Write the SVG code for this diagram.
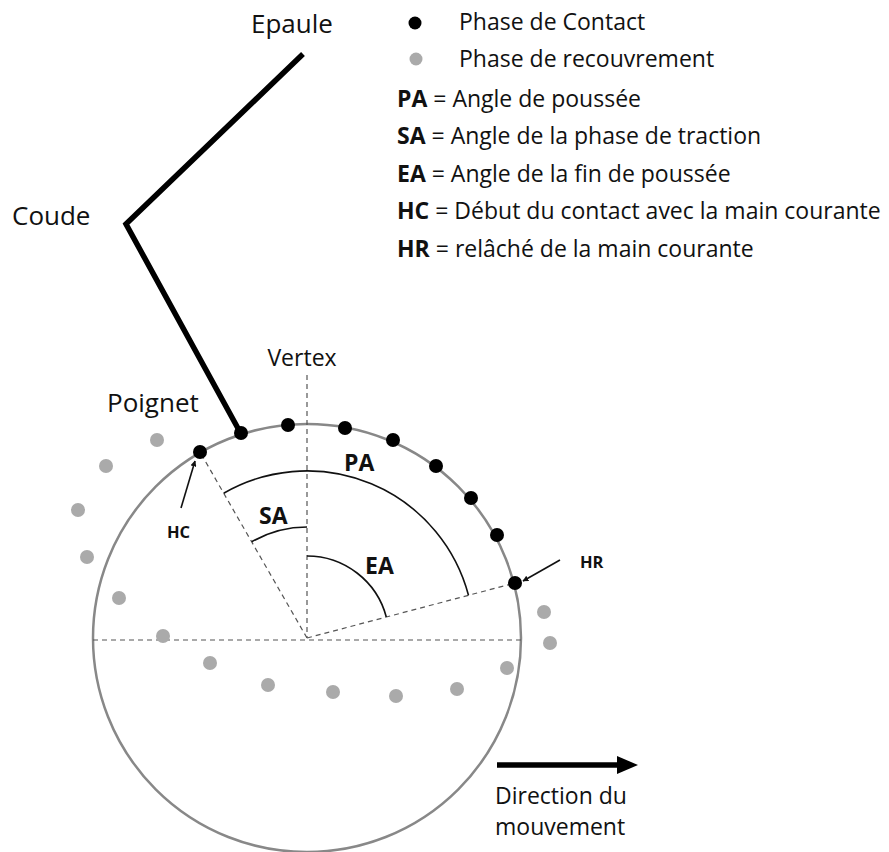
<svg xmlns="http://www.w3.org/2000/svg" width="889" height="852" viewBox="0 0 889 852">
<defs>
<style>
.t{font-family:"Open Sans","Liberation Sans",sans-serif;fill:#111;}
.lg{font-size:23px;}
.big{font-size:26px;}
.b{font-weight:bold;}
.dash{stroke:#555;stroke-width:1.2;stroke-dasharray:5 4;fill:none;}
.arc{stroke:#111;stroke-width:1.6;fill:none;}
.cd{fill:#000;}
.rd{fill:#aaa;}
.thin{stroke:#111;stroke-width:1.6;fill:none;}
</style>
<marker id="ah" viewBox="0 0 10 10" refX="9" refY="5" markerWidth="6" markerHeight="6" markerUnits="userSpaceOnUse" orient="auto">
<path d="M0,0 L10,5 L0,10 z" fill="#111"/>
</marker>
</defs>
<rect width="889" height="852" fill="#fff"/>

<g id="legend">
<circle class="cd" cx="415" cy="23" r="6.5"/>
<text class="t lg" x="459" y="30">Phase de Contact</text>
<circle class="rd" cx="416" cy="59" r="6.5"/>
<text class="t lg" x="459" y="67">Phase de recouvrement</text>
<text class="t lg" x="397" y="107"><tspan class="b">PA</tspan> = Angle de poussée</text>
<text class="t lg" x="397" y="144"><tspan class="b">SA</tspan> = Angle de la phase de traction</text>
<text class="t lg" x="397" y="181.5"><tspan class="b">EA</tspan> = Angle de la fin de poussée</text>
<text class="t lg" x="397" y="219"><tspan class="b">HC</tspan> = Début du contact avec la main courante</text>
<text class="t lg" x="397" y="256.5"><tspan class="b">HR</tspan> = relâché de la main courante</text>
</g>

<g id="arm">
<polyline points="303,54 126,224 240,432" fill="none" stroke="#000" stroke-width="5.5" stroke-linejoin="miter"/>
<text class="t big" x="251" y="33">Epaule</text>
<text class="t big" x="12" y="225">Coude</text>
<text class="t big" x="107" y="412">Poignet</text>
</g>

<g id="wheel">
<circle cx="307" cy="638" r="214" fill="none" stroke="#888" stroke-width="2.5"/>
</g>

<g id="connectors">
<line class="dash" x1="307" y1="375" x2="307" y2="638"/>
<line class="dash" x1="93" y1="640" x2="521" y2="640"/>
<line class="dash" x1="307" y1="638" x2="200" y2="452"/>
<line class="dash" x1="307" y1="638" x2="515" y2="583"/>
<line class="thin" x1="181" y1="508" x2="195" y2="461" marker-end="url(#ah)"/>
<line class="thin" x1="560" y1="560" x2="523" y2="581" marker-end="url(#ah)"/>
<line x1="497" y1="765" x2="620" y2="765" stroke="#000" stroke-width="5.5"/>
<path d="M617,756 L638,765 L617,774 z" fill="#000"/>
</g>

<g id="angles">
<path class="arc" d="M223.7,493.2 A167 167 0 0 1 468.5,595.3"/>
<path class="arc" d="M251.7,541.8 A111 111 0 0 1 307,527"/>
<path class="arc" d="M307,556 A82 82 0 0 1 386.3,617"/>
<text class="t b" font-size="23" x="344" y="471">PA</text>
<text class="t b" font-size="23" x="259" y="524">SA</text>
<text class="t b" font-size="23" x="365" y="574">EA</text>
<text class="t b" font-size="16.5" x="167" y="538">HC</text>
<text class="t b" font-size="16.5" x="580" y="568">HR</text>
<text class="t" font-size="23" x="302" y="366" text-anchor="middle">Vertex</text>
</g>

<g id="contact-dots">
<circle class="cd" cx="200" cy="452" r="7"/>
<circle class="cd" cx="241" cy="433" r="7"/>
<circle class="cd" cx="288" cy="425" r="7"/>
<circle class="cd" cx="345" cy="428" r="7"/>
<circle class="cd" cx="393" cy="440" r="7"/>
<circle class="cd" cx="436" cy="466" r="7"/>
<circle class="cd" cx="471" cy="498" r="7"/>
<circle class="cd" cx="497" cy="535" r="7"/>
<circle class="cd" cx="515" cy="583" r="7"/>
</g>

<g id="recovery-dots">
<circle class="rd" cx="157" cy="440" r="7"/>
<circle class="rd" cx="106" cy="466" r="7"/>
<circle class="rd" cx="78" cy="510" r="7"/>
<circle class="rd" cx="87" cy="557" r="7"/>
<circle class="rd" cx="119" cy="598" r="7"/>
<circle class="rd" cx="163" cy="636" r="7"/>
<circle class="rd" cx="210" cy="663" r="7"/>
<circle class="rd" cx="268" cy="685" r="7"/>
<circle class="rd" cx="333" cy="692" r="7"/>
<circle class="rd" cx="396" cy="696" r="7"/>
<circle class="rd" cx="457" cy="689" r="7"/>
<circle class="rd" cx="507" cy="668" r="7"/>
<circle class="rd" cx="550" cy="643" r="7"/>
<circle class="rd" cx="544" cy="612" r="7"/>
</g>

<g id="direction-label">
<text class="t lg" x="495" y="804">Direction du</text>
<text class="t lg" x="495" y="835">mouvement</text>
</g>
</svg>
